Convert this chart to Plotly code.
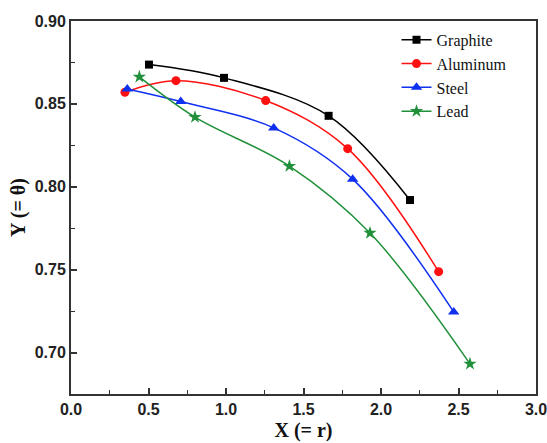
import plotly.graph_objects as go

graphite_x = [0.503, 0.987, 1.662, 2.187]
graphite_y = [0.8737, 0.8657, 0.8428, 0.792]
aluminum_x = [0.348, 0.677, 1.256, 1.785, 2.372]
aluminum_y = [0.857, 0.864, 0.852, 0.823, 0.7488]
steel_x = [0.363, 0.708, 1.308, 1.817, 2.469]
steel_y = [0.859, 0.8514, 0.8355, 0.8046, 0.7245]
lead_x = [0.441, 0.80, 1.409, 1.929, 2.574]
lead_y = [0.8663, 0.842, 0.8125, 0.7721, 0.6932]

series = [
    ("Graphite", graphite_x, graphite_y, "#000000", "square", 8),
    ("Aluminum", aluminum_x, aluminum_y, "#ff1010", "circle", 9),
    ("Steel", steel_x, steel_y, "#1030f0", "triangle-up", 10),
    ("Lead", lead_x, lead_y, "#20903a", "star", 10),
]

fig = go.Figure()
for name, xs, ys, col, sym, sz in series:
    fig.add_trace(go.Scatter(
        x=xs, y=ys, name=name, mode="lines+markers",
        line=dict(color=col, width=1.5, shape="spline", smoothing=1.0),
        marker=dict(symbol=sym, size=sz, color=col),
    ))

tick_font = dict(family="Liberation Sans, Arial, sans-serif", size=16, color="#222222", weight="bold")
title_font = dict(family="Liberation Serif, Times New Roman, serif", size=20, color="#111111")

axis_common = dict(
    showgrid=False, zeroline=False, showline=True, linecolor="#333333",
    linewidth=2, mirror=True, ticks="inside", ticklen=6, tickwidth=1.5,
    tickcolor="#333333", automargin=False, tickfont=tick_font,
    ticklabeloverflow="allow",
)

fig.update_layout(
    width=547, height=443,
    margin=dict(l=71, r=11, t=21, b=49),
    paper_bgcolor="white", plot_bgcolor="white",
    showlegend=True,
    legend=dict(
        x=0.70, y=0.995, xanchor="left", yanchor="top",
        font=dict(family="Liberation Serif, Times New Roman, serif", size=16, color="#111111"),
        bgcolor="rgba(0,0,0,0)", borderwidth=0, tracegroupgap=0,
    ),
    xaxis=dict(
        range=[0, 3], dtick=0.5, tickformat=".1f",
        minor=dict(ticks="inside", ticklen=4, dtick=0.25, tickcolor="#333333", tickwidth=1.2),
        title=dict(text="<b>X (= r)</b>", standoff=6, font=title_font),
        **axis_common,
    ),
    yaxis=dict(
        range=[0.675, 0.90], tickvals=[0.70, 0.75, 0.80, 0.85, 0.90], tickformat=".2f",
        minor=dict(ticks="inside", ticklen=4, tickvals=[0.725, 0.775, 0.825, 0.875], tickcolor="#333333", tickwidth=1.2),
        title=dict(text="<b>Y (= θ)</b>", standoff=4, font=title_font),
        **axis_common,
    ),
)

fig.write_html(
    "out.html",
    config={"displayModeBar": False},
    post_script="document.body.style.margin='0px'; document.body.style.overflow='hidden';",
)
